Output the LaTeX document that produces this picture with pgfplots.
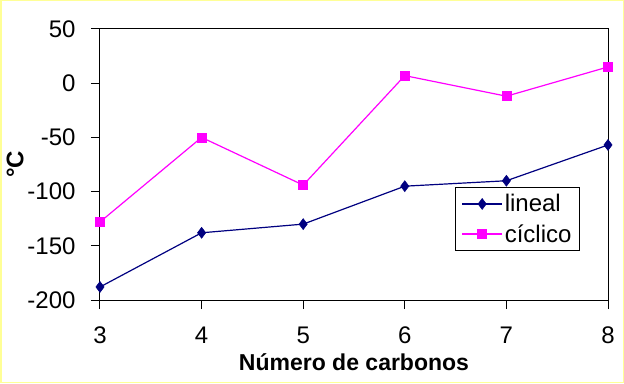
\documentclass[border=0pt]{standalone}
\usepackage{pgfplots}
\pgfplotsset{compat=1.18}
\usepackage{fontspec}
\setmainfont{Liberation Sans}
\definecolor{navyline}{RGB}{0,0,128}
\definecolor{magline}{RGB}{255,0,255}
\definecolor{frameyel}{RGB}{255,255,150}
\begin{document}
\begin{tikzpicture}
\begin{axis}[
  name=ax,
  at={(100pt,83pt)}, anchor=south west,
  scale only axis, width=508pt, height=271pt,
  xmin=3, xmax=8, ymin=-200, ymax=50,
  xtick={3,4,5,6,7,8}, ytick={-200,-150,-100,-50,0,50},
  tick align=outside, major tick length=9pt,
  xtick pos=bottom, ytick pos=left,
  tick style={black, line width=1pt},
  axis line style={black, line width=1pt},
  ticklabel style={font=\fontsize{24}{24}\selectfont},
  xticklabel style={inner sep=1pt},
  xticklabel shift=17pt, yticklabel shift=12pt,
  /pgf/number format/assume math mode=true,
  xlabel={Número de carbonos},
  ylabel={°C},
  xlabel style={font=\bfseries\fontsize{23}{23}\selectfont, inner sep=0pt, at={(rel axis cs:0.5,0)}, anchor=center, yshift=-62pt},
  ylabel style={font=\bfseries\fontsize{24}{24}\selectfont, at={(rel axis cs:0,0.5)}, anchor=center, yshift=85pt},
  legend style={at={(rel axis cs:0.699,0.417)}, anchor=north west, draw=black, line width=1pt,
    font=\fontsize{24}{26}\selectfont, inner xsep=6pt, inner ysep=5pt, row sep=7pt},
  legend cell align=left,
  legend image code/.code={\draw[mark repeat=2,mark phase=2,#1] plot coordinates {(0pt,0pt) (20pt,0pt) (40pt,0pt)};},
]
\addplot[navyline, line width=1.2pt, mark=diamond*, mark size=5.5pt, mark options={solid, fill=navyline, line width=0.5pt}]
  coordinates {(3,-188) (4,-138) (5,-130) (6,-95) (7,-90) (8,-57)};
\addlegendentry{lineal}
\addplot[magline, line width=1.2pt, mark=square*, mark size=4.5pt, mark options={solid, fill=magline, line width=0.5pt}]
  coordinates {(3,-128) (4,-50) (5,-94) (6,7) (7,-12) (8,15)};
\addlegendentry{cíclico}
\end{axis}
\draw[frameyel, line width=1.5pt] ([shift={(-99.25pt,-82.25pt)}]ax.south west) rectangle ++(622.5pt,381.5pt);
\useasboundingbox ([shift={(-100pt,-83pt)}]ax.south west) rectangle ++(624pt,383pt);
\end{tikzpicture}
\end{document}
